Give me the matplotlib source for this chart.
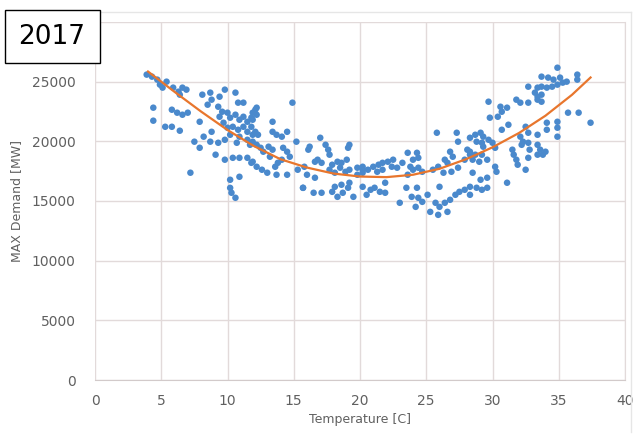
import matplotlib
matplotlib.use("Agg")
import matplotlib.pyplot as plt
from matplotlib.patches import Rectangle
from matplotlib.lines import Line2D

# daily max temperature [C] vs max demand [MW]
temp = [
    3.9, 4.3, 4.7, 4.9, 5.4, 5.1, 5.9, 6.3, 6.6, 6.4, 6.9, 4.4, 4.4, 5.3, 5.8, 6.4,
    5.8, 6.2, 6.6, 7.0, 8.1, 8.7, 8.5, 8.8, 9.4, 9.8, 10.6, 10.8, 7.9, 7.2, 7.5, 7.9,
    8.2, 8.7, 9.3, 8.8, 9.1, 9.8, 10.4, 10.9, 11.5, 11.8, 10.2, 10.9, 10.2, 10.3, 10.6,
    9.3, 9.6, 9.4, 10.0, 10.2, 10.6, 10.9, 11.2, 11.5, 11.8, 9.7, 10.0, 10.4, 10.8, 11.2,
    11.5, 11.9, 10.9, 11.5, 10.2, 9.8, 10.7, 11.7, 12.2, 11.2, 11.9,
    14.9, 12.1, 12.2, 11.9, 13.4, 11.8, 12.1, 12.3, 13.4, 13.7, 14.1, 14.5, 11.9, 12.2,
    12.5, 12.7, 13.1, 13.4, 13.2, 14.2, 14.5, 14.7, 14.1, 15.2, 11.9, 12.2, 12.6, 13.0,
    13.7, 14.5, 13.6, 13.8, 15.3, 15.8, 16.0, 16.6, 16.1, 16.2, 17.0, 17.4, 17.6, 17.7,
    16.6, 16.8, 17.1, 17.9, 18.3, 18.6, 19.0, 19.1, 19.2, 17.7, 18.1, 18.5, 18.9, 19.2,
    19.8, 20.2, 15.7, 17.1, 17.9, 18.3, 18.7, 19.1, 19.5, 18.1, 18.6, 19.8, 20.2, 19.2,
    16.5, 15.7,
    25.8, 27.3, 27.4, 24.3, 23.6, 24.0, 24.4, 26.8, 27.0, 26.4, 26.6, 28.1, 28.3, 27.9,
    28.5, 20.2, 20.6, 21.0, 21.4, 21.7, 22.1, 22.5, 22.4, 22.8, 21.7, 21.3, 23.2, 23.8,
    24.0, 24.4, 24.7, 23.6, 25.5, 25.9, 26.3, 26.9, 27.4, 20.2, 20.8, 21.1, 21.5, 21.9,
    20.5, 21.9, 23.5, 24.3, 23.9, 24.4, 23.0, 24.2, 24.7, 25.1, 26.0, 25.7, 26.0, 26.4,
    26.8, 27.2, 27.5, 27.9, 25.3, 25.9, 26.6,
    34.9, 33.7, 34.2, 34.6, 35.1, 35.6, 36.4, 36.4, 32.7, 33.4, 33.7, 34.1, 34.5, 34.9,
    35.3, 33.2, 33.4, 33.7, 33.4, 33.7, 31.8, 32.1, 32.7, 29.7, 30.6, 30.7, 31.1, 30.4,
    29.8, 31.2, 30.7, 34.1, 34.9, 35.7, 36.5, 37.4, 32.5, 32.7, 32.1, 33.4, 34.1, 34.9,
    34.9, 28.3, 28.7, 29.1, 29.3, 28.8, 29.2, 29.7, 30.0, 28.3, 28.7, 29.2, 29.6, 29.0,
    29.3, 30.2, 32.3, 32.7, 32.2, 32.8, 33.4, 33.6, 33.8, 34.0, 31.5, 31.6, 31.8, 31.9,
    32.5, 32.7, 33.4, 30.2, 30.3, 28.5, 29.1, 29.6, 31.1, 28.3, 28.8, 29.2, 29.6, 28.3,
]
demand = [
    25590, 25420, 25170, 24750, 25000, 24500, 24500, 24160, 24500, 23910, 24330, 22820,
    21730, 21220, 21220, 20890, 22650, 22400, 22230, 22400, 23910, 24080, 23070, 23490,
    23740, 24330, 24080, 23240, 21640, 17370, 19970, 19460, 20390, 19970, 19880, 20800,
    18880, 18460, 18620, 18620, 18620, 18200, 16780, 17030, 16100, 15690, 15270,
    22900, 22480, 22060, 22400, 21980, 22230, 21810, 22060, 21640, 21980, 21560, 21140,
    21220, 20970, 21220, 20800, 20550, 20390, 20130, 20550, 20130, 19880, 19710, 22820,
    23240, 22400,
    23240, 22650, 22230, 21810, 21640, 21220, 20800, 20550, 20800, 20550, 20390, 20800,
    19970, 19710, 19460, 19130, 19550, 19300, 18710, 19460, 19130, 18710, 18460, 19970,
    18290, 17870, 17620, 17370, 17200, 17200, 17870, 18200, 17620, 17870, 17200, 16950,
    19300, 19550, 20300, 19710, 19300, 18880, 18290, 18460, 18200, 18040, 18290, 18200,
    18460, 19460, 19710, 17620, 17370, 17790, 17450, 17620, 17790, 17620, 16110, 15690,
    15770, 15350, 15690, 16110, 15350, 16190, 16360, 17200, 17370, 16530, 15690, 16100,
    20720, 20720, 19970, 19040, 19040, 18460, 18620, 19130, 18710, 18460, 18200, 19300,
    18880, 18460, 18460, 17870, 17620, 17870, 18040, 18200, 18290, 18460, 17870, 17790,
    17620, 17450, 18200, 17870, 17620, 17790, 17450, 17200, 17620, 17870, 17370, 17450,
    17790, 16190, 15940, 16110, 15770, 15690, 15520, 16530, 16110, 16110, 15350, 15270,
    14850, 14510, 14930, 15520, 16190, 14850, 14510, 14850, 15100, 15520, 15770, 15940,
    14090, 13840, 14090,
    26170, 25420, 25340, 25170, 25340, 25000, 25590, 25170, 24580, 24500, 24580, 24500,
    24580, 24750, 24920, 24080, 23740, 23910, 23490, 23320, 23490, 23240, 23240, 23320,
    22900, 22480, 22820, 22060, 21980, 21390, 20970, 21560, 21640, 22400, 22400, 21560,
    21220, 20720, 20390, 20550, 20970, 21140, 20390, 20300, 20550, 20720, 20390, 19970,
    19880, 20130, 19880, 19130, 18880, 18880, 18460, 18290, 19550, 19460, 19970, 19880,
    19710, 19300, 19710, 19300, 18880, 19130, 19300, 18880, 18460, 18040, 17620, 18620,
    18880, 17870, 17450, 17370, 16780, 16950, 16530, 16190, 16110, 15940, 16110, 15520,
]

# polynomial trendline
trend_t = [4, 6, 8, 10, 12, 14, 16, 18, 20, 22, 24, 26, 28, 30, 32, 34, 36, 37.4]
trend_d = [25850, 24150, 22500, 20950, 19600, 18500, 17800, 17300, 17050, 17000,
           17200, 17700, 18500, 19500, 20700, 22150, 23900, 25350]

yticks = [0, 5000, 10000, 15000, 20000, 25000, 30000]
ylabels = ['0', '5000', '10000', '15000', '20000', '25000', '']  # top label hidden by the year box

plt.rcParams['font.family'] = ['DejaVu Sans']
fig = plt.figure(figsize=(6.37, 4.34), dpi=100)
ax = fig.add_axes([95/637, 1-380/434, 530/637, 358/434])

ax.scatter(temp, demand, s=22, color='#4A89CC', edgecolors='none', zorder=3)
ax.plot(trend_t, trend_d, color='#E8762D', lw=1.6, zorder=4)

ax.set_xlim(0, 40)
ax.set_ylim(0, 30000)
ax.set_xticks(range(0, 41, 5))
ax.set_yticks(yticks, ylabels)
ax.grid(True, color='#E2DADA', lw=1.0, zorder=0)
for s in ['left', 'top']:
    ax.spines[s].set_visible(False)
ax.spines['right'].set_color('#E2DADA')
ax.spines['bottom'].set_color('#D2CACA')
ax.tick_params(length=0, labelsize=10, labelcolor='#606060')
ax.tick_params(axis='y', pad=14)
ax.tick_params(axis='x', pad=10)
ax.set_xlabel('Temperature [C]', fontsize=9, color='#606060', labelpad=4)
ax.set_ylabel('MAX Demand [MW]', fontsize=9, color='#606060', labelpad=6)

# outer chart border (faint)
fig.add_artist(Line2D([100/637, 631/637], [1-12/434, 1-12/434], color='#E6E6E6', lw=1))
fig.add_artist(Line2D([631/637, 631/637], [1-12/434, 1-432/434], color='#E6E6E6', lw=1))

# year label box
fig.add_artist(Rectangle((5/637, 1-63/434), 95/637, 53/434, facecolor='white',
                         edgecolor='black', lw=1, zorder=10))
fig.text(52/637, 1-37/434, '2017', fontsize=19, ha='center', va='center', zorder=11)

fig.savefig('out.png', dpi=100)
